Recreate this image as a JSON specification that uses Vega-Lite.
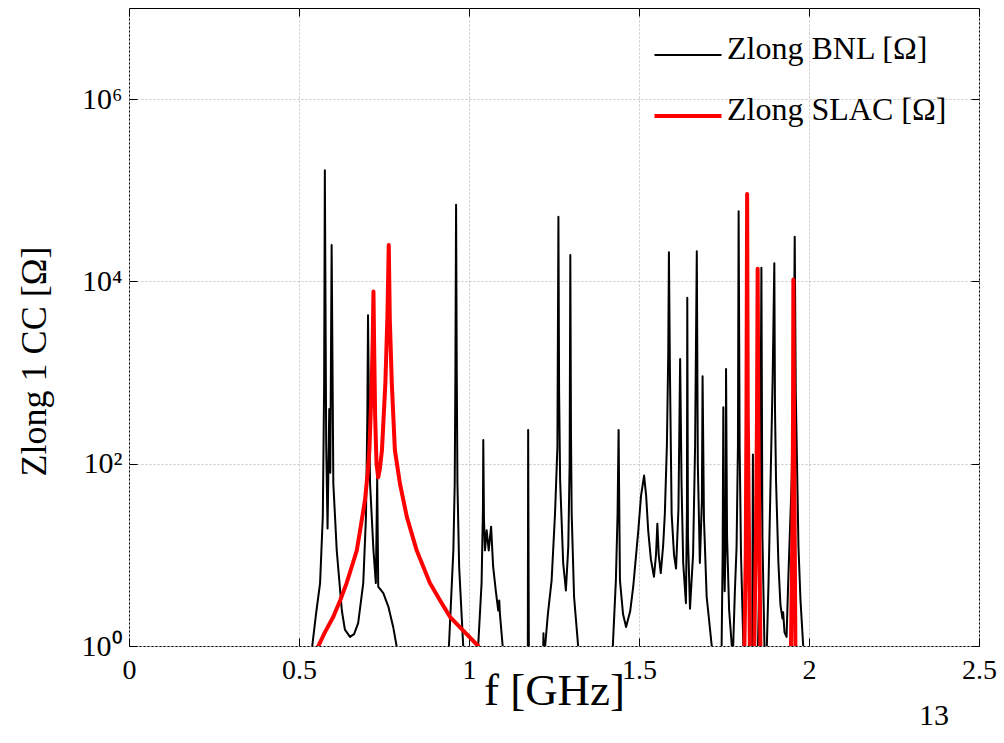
{
  "$schema": "https://vega.github.io/schema/vega-lite/v6.json",
  "width": 850,
  "height": 638,
  "autosize": {"type": "none"},
  "padding": {"left": 129, "top": 8, "right": 25, "bottom": 97},
  "background": "white",
  "config": {
    "view": {"stroke": "#000", "strokeWidth": 1},
    "font": "Liberation Serif",
    "axis": {"labelFont": "Liberation Serif", "titleFont": "Liberation Serif", "labelColor": "#000", "titleColor": "#000", "titleFontWeight": "normal"}
  },
  "title": {"text": "13", "orient": "bottom", "anchor": "end", "frame": "group", "fontSize": 30, "font": "Liberation Serif", "fontWeight": "normal", "color": "#000", "dx": -30, "offset": -12},
  "datasets": {
    "bnl": [
      {"f": 0.518, "z": 0.1}, {"f": 0.539, "z": 1}, {"f": 0.55, "z": 2.24}, {"f": 0.562, "z": 4.9},
      {"f": 0.57, "z": 26.3}, {"f": 0.574, "z": 759}, {"f": 0.576, "z": 165959}, {"f": 0.58, "z": 158},
      {"f": 0.584, "z": 19.5}, {"f": 0.589, "z": 398}, {"f": 0.592, "z": 79.4}, {"f": 0.596, "z": 25119},
      {"f": 0.601, "z": 60.3}, {"f": 0.611, "z": 11.2}, {"f": 0.626, "z": 2.45}, {"f": 0.635, "z": 1.51},
      {"f": 0.65, "z": 1.26}, {"f": 0.662, "z": 1.35}, {"f": 0.674, "z": 1.78}, {"f": 0.689, "z": 4.9},
      {"f": 0.697, "z": 26.3}, {"f": 0.701, "z": 324}, {"f": 0.703, "z": 4266}, {"f": 0.706, "z": 316},
      {"f": 0.709, "z": 60.3}, {"f": 0.719, "z": 11.2}, {"f": 0.726, "z": 4.9}, {"f": 0.73, "z": 70.8},
      {"f": 0.733, "z": 4.47}, {"f": 0.748, "z": 3.8}, {"f": 0.763, "z": 2.69}, {"f": 0.777, "z": 1.62},
      {"f": 0.787, "z": 1}, {"f": 0.797, "z": 0.1}, {"f": 0.929, "z": 0.1}, {"f": 0.941, "z": 1},
      {"f": 0.954, "z": 11.2}, {"f": 0.958, "z": 60.3}, {"f": 0.96, "z": 1000}, {"f": 0.962, "z": 69183},
      {"f": 0.964, "z": 1000}, {"f": 0.966, "z": 60.3}, {"f": 0.971, "z": 7.41}, {"f": 0.983, "z": 1},
      {"f": 0.994, "z": 0.1}, {"f": 1.018, "z": 0.1}, {"f": 1.027, "z": 1}, {"f": 1.037, "z": 4.9},
      {"f": 1.041, "z": 31.6}, {"f": 1.042, "z": 182}, {"f": 1.044, "z": 25.1}, {"f": 1.047, "z": 11.2},
      {"f": 1.052, "z": 18.6}, {"f": 1.058, "z": 11.2}, {"f": 1.065, "z": 20.4}, {"f": 1.071, "z": 7.41},
      {"f": 1.079, "z": 3.98}, {"f": 1.086, "z": 2.45}, {"f": 1.089, "z": 3.16}, {"f": 1.091, "z": 2.24},
      {"f": 1.099, "z": 1}, {"f": 1.109, "z": 0.1}, {"f": 1.168, "z": 0.1}, {"f": 1.173, "z": 1},
      {"f": 1.174, "z": 234}, {"f": 1.176, "z": 1}, {"f": 1.182, "z": 0.1}, {"f": 1.216, "z": 0.3},
      {"f": 1.219, "z": 1.38}, {"f": 1.221, "z": 0.5}, {"f": 1.224, "z": 1}, {"f": 1.232, "z": 2.24},
      {"f": 1.243, "z": 5.25}, {"f": 1.253, "z": 28.2}, {"f": 1.26, "z": 151}, {"f": 1.263, "z": 51286},
      {"f": 1.265, "z": 631}, {"f": 1.268, "z": 66.1}, {"f": 1.277, "z": 8.13}, {"f": 1.285, "z": 4.07},
      {"f": 1.292, "z": 12.3}, {"f": 1.296, "z": 100}, {"f": 1.298, "z": 19498}, {"f": 1.3, "z": 200},
      {"f": 1.302, "z": 28.2}, {"f": 1.309, "z": 3.47}, {"f": 1.321, "z": 1}, {"f": 1.332, "z": 0.1},
      {"f": 1.409, "z": 0.1}, {"f": 1.423, "z": 1}, {"f": 1.432, "z": 5.25}, {"f": 1.437, "z": 28.2},
      {"f": 1.44, "z": 234}, {"f": 1.442, "z": 31.6}, {"f": 1.444, "z": 5.25}, {"f": 1.453, "z": 2.24},
      {"f": 1.462, "z": 1.62}, {"f": 1.474, "z": 2.4}, {"f": 1.483, "z": 4.47}, {"f": 1.498, "z": 18.6},
      {"f": 1.506, "z": 44.7}, {"f": 1.515, "z": 74.1}, {"f": 1.521, "z": 44.7}, {"f": 1.527, "z": 18.6},
      {"f": 1.535, "z": 8.91}, {"f": 1.544, "z": 5.75}, {"f": 1.55, "z": 10}, {"f": 1.554, "z": 21.9},
      {"f": 1.558, "z": 10}, {"f": 1.564, "z": 6.31}, {"f": 1.571, "z": 12.6}, {"f": 1.576, "z": 28.2},
      {"f": 1.582, "z": 158}, {"f": 1.586, "z": 1585}, {"f": 1.588, "z": 20893}, {"f": 1.591, "z": 1000},
      {"f": 1.596, "z": 28.2}, {"f": 1.603, "z": 10}, {"f": 1.609, "z": 7.08}, {"f": 1.616, "z": 31.6},
      {"f": 1.621, "z": 1413}, {"f": 1.625, "z": 63.1}, {"f": 1.63, "z": 8.13}, {"f": 1.638, "z": 2.95},
      {"f": 1.641, "z": 31.6}, {"f": 1.642, "z": 6607}, {"f": 1.644, "z": 15.8}, {"f": 1.65, "z": 2.57},
      {"f": 1.659, "z": 10}, {"f": 1.665, "z": 158}, {"f": 1.67, "z": 21380}, {"f": 1.673, "z": 100},
      {"f": 1.679, "z": 8.13}, {"f": 1.685, "z": 39.8}, {"f": 1.687, "z": 912}, {"f": 1.691, "z": 25.1},
      {"f": 1.699, "z": 3.47}, {"f": 1.714, "z": 1}, {"f": 1.724, "z": 0.1}, {"f": 1.738, "z": 0.1},
      {"f": 1.743, "z": 1}, {"f": 1.746, "z": 10}, {"f": 1.748, "z": 417}, {"f": 1.75, "z": 10},
      {"f": 1.752, "z": 3.98}, {"f": 1.755, "z": 15.8}, {"f": 1.756, "z": 1096}, {"f": 1.759, "z": 15.8},
      {"f": 1.765, "z": 2.51}, {"f": 1.773, "z": 1}, {"f": 1.775, "z": 0.5}, {"f": 1.777, "z": 1},
      {"f": 1.782, "z": 3.98}, {"f": 1.787, "z": 12.3}, {"f": 1.791, "z": 158}, {"f": 1.793, "z": 58884},
      {"f": 1.796, "z": 158}, {"f": 1.8, "z": 10}, {"f": 1.807, "z": 1}, {"f": 1.815, "z": 0.1},
      {"f": 1.829, "z": 0.1}, {"f": 1.833, "z": 1}, {"f": 1.835, "z": 126}, {"f": 1.837, "z": 1},
      {"f": 1.842, "z": 0.1}, {"f": 1.85, "z": 1}, {"f": 1.856, "z": 15.8}, {"f": 1.86, "z": 14125},
      {"f": 1.863, "z": 15.8}, {"f": 1.869, "z": 1}, {"f": 1.872, "z": 0.5}, {"f": 1.876, "z": 1},
      {"f": 1.881, "z": 5.01}, {"f": 1.885, "z": 28.2}, {"f": 1.893, "z": 813}, {"f": 1.898, "z": 15849},
      {"f": 1.9, "z": 398}, {"f": 1.903, "z": 66.1}, {"f": 1.91, "z": 8.13}, {"f": 1.916, "z": 2.82},
      {"f": 1.922, "z": 2.0}, {"f": 1.924, "z": 2.34}, {"f": 1.928, "z": 1.41}, {"f": 1.934, "z": 1.26},
      {"f": 1.939, "z": 5.25}, {"f": 1.949, "z": 66.1}, {"f": 1.955, "z": 1000}, {"f": 1.958, "z": 30903},
      {"f": 1.961, "z": 631}, {"f": 1.969, "z": 12.3}, {"f": 1.975, "z": 3.16}, {"f": 1.983, "z": 1},
      {"f": 1.994, "z": 0.1}, {"f": 2.5, "z": 0.1}
    ],
    "slac": [
      {"f": 0.518, "z": 0.1}, {"f": 0.557, "z": 1}, {"f": 0.576, "z": 1.41}, {"f": 0.601, "z": 2.09},
      {"f": 0.621, "z": 3.16}, {"f": 0.64, "z": 4.9}, {"f": 0.656, "z": 7.59}, {"f": 0.67, "z": 11.2},
      {"f": 0.682, "z": 20.9}, {"f": 0.694, "z": 39.8}, {"f": 0.702, "z": 79.4}, {"f": 0.707, "z": 141},
      {"f": 0.714, "z": 759}, {"f": 0.717, "z": 2512}, {"f": 0.719, "z": 7762}, {"f": 0.721, "z": 1995},
      {"f": 0.724, "z": 324}, {"f": 0.728, "z": 100}, {"f": 0.733, "z": 70.8}, {"f": 0.738, "z": 89.1},
      {"f": 0.744, "z": 141}, {"f": 0.754, "z": 759}, {"f": 0.76, "z": 4074}, {"f": 0.764, "z": 25119},
      {"f": 0.767, "z": 3981}, {"f": 0.773, "z": 759}, {"f": 0.782, "z": 141}, {"f": 0.797, "z": 60.3},
      {"f": 0.817, "z": 26.3}, {"f": 0.846, "z": 11.2}, {"f": 0.885, "z": 4.9}, {"f": 0.915, "z": 3.16},
      {"f": 0.944, "z": 2.09}, {"f": 0.988, "z": 1.41}, {"f": 1.027, "z": 1}, {"f": 1.06, "z": 0.1},
      {"f": 1.8, "z": 0.1}, {"f": 1.81, "z": 1}, {"f": 1.814, "z": 10}, {"f": 1.816, "z": 316},
      {"f": 1.818, "z": 91201}, {"f": 1.82, "z": 316}, {"f": 1.824, "z": 10}, {"f": 1.826, "z": 1},
      {"f": 1.832, "z": 0.1}, {"f": 1.839, "z": 1}, {"f": 1.844, "z": 15.8}, {"f": 1.847, "z": 316},
      {"f": 1.849, "z": 13804}, {"f": 1.851, "z": 316}, {"f": 1.854, "z": 15.8}, {"f": 1.857, "z": 1},
      {"f": 1.9, "z": 0.1}, {"f": 1.947, "z": 1}, {"f": 1.951, "z": 15.8}, {"f": 1.953, "z": 316},
      {"f": 1.954, "z": 10471}, {"f": 1.956, "z": 316}, {"f": 1.958, "z": 15.8}, {"f": 1.96, "z": 1},
      {"f": 1.99, "z": 0.1}, {"f": 2.5, "z": 0.1}
    ]
  },
  "layer": [
    {
      "data": {"name": "bnl"},
      "mark": {"type": "line", "clip": true, "strokeWidth": 2, "strokeJoin": "round"},
      "encoding": {
        "x": {
          "field": "f", "type": "quantitative",
          "scale": {"domain": [0, 2.5], "nice": false, "zero": false},
          "axis": {
            "orient": "bottom", "values": [0, 0.5, 1, 1.5, 2, 2.5], "labelExpr": "'' + datum.value",
            "labelFontSize": 28, "labelFlush": false, "labelOverlap": false, "labelPadding": 18,
            "tickSize": -8, "tickColor": "#000", "domain": false,
            "grid": true, "gridDash": [2, 2], "gridColor": "#c4c4c4", "gridWidth": 1,
            "title": "f [GHz]", "titleFontSize": 45, "titleBaseline": "alphabetic", "titleY": 58
          }
        },
        "y": {
          "field": "z", "type": "quantitative",
          "scale": {"type": "log", "domain": [1, 10000000], "nice": false},
          "axis": {
            "orient": "left", "values": [1, 100, 10000, 1000000],
            "labelExpr": "datum.value == 1 ? '10⁰' : datum.value == 100 ? '10²' : datum.value == 10000 ? '10⁴' : '10⁶'",
            "labelFontSize": 30, "labelPadding": 15, "labelFlush": false,
            "tickSize": -8, "tickColor": "#000", "domain": false,
            "grid": true, "gridDash": [2, 2], "gridColor": "#c4c4c4", "gridWidth": 1,
            "title": "Zlong 1 CC [Ω]", "titleFontSize": 36, "titleAngle": -90, "titleBaseline": "alphabetic",
            "titleAlign": "center", "titleX": -84, "titleY": 353
          }
        },
        "color": {
          "datum": "Zlong BNL [Ω]",
          "scale": {"domain": ["Zlong BNL [Ω]", "Zlong SLAC [Ω]"], "range": ["#000000", "#ff0000"]},
          "legend": {
            "orient": "none", "legendX": 543, "legendY": 31, "title": null, "padding": 0,
            "symbolType": "stroke", "symbolSize": 4489, "symbolStrokeWidth": 2,
            "labelFontSize": 32, "labelFont": "Liberation Serif", "labelColor": "#000", "labelOffset": 23,
            "labelLimit": 500, "rowPadding": 29,
            "encode": {
              "symbols": {"update": {"strokeWidth": {"signal": "datum.value === 'Zlong SLAC [Ω]' ? 4 : 2"}}},
              "labels": {"update": {"dy": {"value": -6}}}
            }
          }
        }
      }
    },
    {
      "data": {"name": "slac"},
      "mark": {"type": "line", "clip": true, "strokeWidth": 4, "strokeJoin": "round"},
      "encoding": {
        "x": {
          "field": "f", "type": "quantitative",
          "axis": {"orient": "top", "values": [0, 0.5, 1, 1.5, 2, 2.5], "labels": false, "title": null, "grid": false, "tickSize": -8, "tickColor": "#000", "domain": false}
        },
        "y": {
          "field": "z", "type": "quantitative",
          "axis": {"orient": "right", "values": [1, 100, 10000, 1000000], "labels": false, "title": null, "grid": false, "tickSize": -8, "tickColor": "#000", "domain": false}
        },
        "color": {"datum": "Zlong SLAC [Ω]"}
      }
    }
  ],
  "resolve": {"axis": {"x": "independent", "y": "independent"}}
}
